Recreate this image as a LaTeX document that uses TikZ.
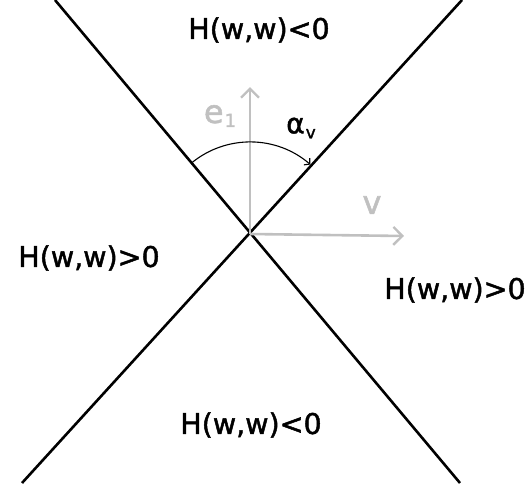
\documentclass[tikz,border=0pt]{standalone}
\usepackage{fontspec}
\setmainfont{DejaVu Sans}
\newfontfamily\hand[FakeBold=1.6]{DejaVu Sans}
\usetikzlibrary{arrows.meta}
\definecolor{axisgray}{RGB}{192,192,192}
\tikzset{
  cone/.style={line width=2.6pt, black},
  axis/.style={line width=2.6pt, axisgray, -{Straight Barb[length=9pt,width=18pt,line width=2.4pt]}},
  region/.style={font=\hand\fontsize{28.5}{32}\selectfont, inner sep=0pt},
  glabel/.style={text=axisgray, font=\hand\fontsize{32}{36}\selectfont, inner sep=0pt},
  anglearc/.style={line width=1.1pt, -{Straight Barb[length=4pt,width=9pt]}}
}
\begin{document}
\begin{tikzpicture}[x=1pt,y=1pt]
\useasboundingbox (0,0) rectangle (528,-483);
\begin{scope}
\clip (0,0) rectangle (528,-483);
\coordinate (O) at (250,-234);
\coordinate (A1) at (55,0);
\coordinate (B1) at (460,-483);
\coordinate (A2) at (462,0);
\coordinate (B2) at (22,-483);
\draw[cone] (A1) -- (B1);
\draw[cone] (A2) -- (B2);
\coordinate (E1) at (250,-87);
\coordinate (V) at (404,-236);
\draw[axis] (O) -- (E1);
\draw[axis] (O) -- (V);
\draw[anglearc] (O) ++(129:92) arc[start angle=129, end angle=49, radius=92];
\end{scope}
\node[glabel] (le) at (220,-116) {e\kern1pt\raisebox{-4pt}{\fontsize{18}{20}\selectfont 1}};
\node[glabel] (lv) at (372,-205) {v};
\node[font=\hand\fontsize{28}{30}\selectfont, inner sep=0pt] (la) at (301,-128) {α\kern1pt\raisebox{-5pt}{\fontsize{17}{20}\selectfont v}};
\node[region] (top) at (259,-30) {H(w,w)<0};
\node[region] (left) at (89,-258) {H(w,w)>0};
\node[region] (right) at (455,-290) {H(w,w)>0};
\node[region] (bottom) at (251,-425) {H(w,w)<0};
\end{tikzpicture}
\end{document}
